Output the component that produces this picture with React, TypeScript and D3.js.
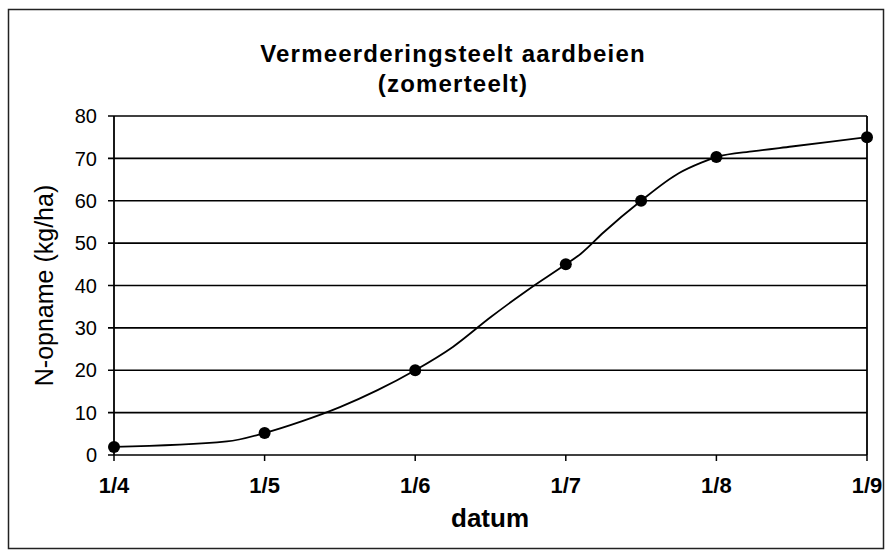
import React from "react";
import * as d3 from "d3";

const monthLabels = ["1/4", "1/5", "1/6", "1/7", "1/8", "1/9"];
const yTicks = [0, 10, 20, 30, 40, 50, 60, 70, 80];
// measured points (x in months after 1/4)
const markerX = [0, 1, 2, 3, 3.5, 4, 5];
const markerY = [1.9, 5.2, 20.0, 45.0, 60.0, 70.3, 75.0];
// smoothed uptake curve
const curveX = [0, 0.75, 1, 1.25, 1.5, 1.75, 2, 2.25, 2.5, 2.75, 3, 3.1, 3.25, 3.5, 3.75, 3.9, 4, 4.25, 4.5, 5];
const curveY = [1.9, 3.2, 5.2, 8.0, 11.3, 15.3, 20.0, 25.5, 32.5, 39.0, 45.0, 47.5, 52.5, 60.0, 66.5, 69.0, 70.3, 71.7, 72.8, 75.0];

const W = 886, H = 552;
const left = 114, right = 867, top = 116, bottom = 455;

export default function App() {
  const x = d3.scaleLinear().domain([0, 5]).range([left, right]);
  const y = d3.scaleLinear().domain([0, 80]).range([bottom, top]);
  const line = d3
    .line<number>()
    .x((_, i) => x(curveX[i]))
    .y((d) => y(d))
    .curve(d3.curveMonotoneX);
  const font = "Arial, 'Liberation Sans', sans-serif";
  return (
    <svg width={W} height={H} style={{ position: "absolute", left: 0, top: 0, background: "#fff" }} fontFamily={font}>
      <rect x={8.5} y={9.5} width={875} height={539} fill="#fff" stroke="#222" strokeWidth={1.5} />
      <text x={453} y={62} textAnchor="middle" fontWeight="bold" fontSize={24} letterSpacing={1.2}>
        Vermeerderingsteelt aardbeien
      </text>
      <text x={453} y={92} textAnchor="middle" fontWeight="bold" fontSize={24} letterSpacing={1.2}>
        (zomerteelt)
      </text>
      {yTicks.map((t) => (
        <g key={t}>
          <line x1={left - 6} x2={right} y1={y(t)} y2={y(t)} stroke="#000" strokeWidth={1.6} />
          <text x={left - 17} y={y(t)} dy="0.36em" textAnchor="end" fontSize={20}>
            {t}
          </text>
        </g>
      ))}
      <line x1={left} x2={left} y1={top} y2={bottom} stroke="#000" strokeWidth={1.8} />
      <line x1={right} x2={right} y1={top} y2={bottom} stroke="#000" strokeWidth={1.8} />
      {monthLabels.map((m, i) => (
        <g key={m}>
          <line x1={x(i)} x2={x(i)} y1={bottom} y2={bottom + 6} stroke="#000" strokeWidth={1.5} />
          <text x={x(i)} y={493} textAnchor="middle" fontWeight="bold" fontSize={22}>
            {m}
          </text>
        </g>
      ))}
      <text x={490} y={527} textAnchor="middle" fontWeight="bold" fontSize={26}>
        datum
      </text>
      <text transform={`translate(53,${(top + bottom) / 2}) rotate(-90)`} textAnchor="middle" fontSize={25}>
        N-opname (kg/ha)
      </text>
      <path d={line(curveY) || ""} fill="none" stroke="#000" strokeWidth={1.8} />
      {markerX.map((mx, i) => (
        <circle key={i} cx={x(mx)} cy={y(markerY[i])} r={6} fill="#000" />
      ))}
    </svg>
  );
}
